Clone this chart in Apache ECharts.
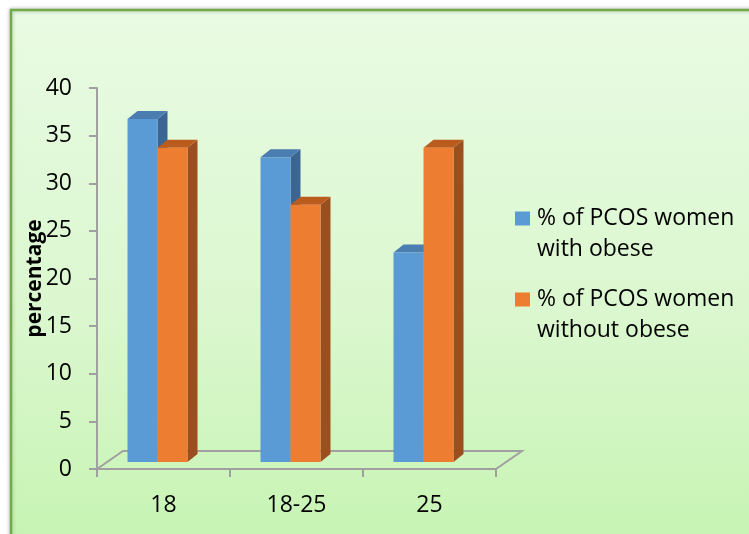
<!DOCTYPE html>
<html>
<head>
<meta charset="utf-8">
<script src="https://cdn.jsdelivr.net/npm/echarts@6/dist/echarts.min.js"></script>
<style>
  html, body { margin: 0; padding: 0; background: #ffffff; }
  #chart { width: 749px; height: 534px; }
</style>
</head>
<body>
<div id="chart"></div>
<script>
// Age groups on the category axis
const categories = ['18', '18-25', '25'];
// Percentage of PCOS women per age group
const withObese = [36, 32, 22];
const withoutObese = [33, 27, 33];
// Series / legend labels
const seriesNames = ['% of PCOS women with obese', '% of PCOS women without obese'];
const legendLines = [['% of PCOS women', 'with obese'], ['% of PCOS women', 'without obese']];

const FONT = 'Open Sans';
const FONT_SIZE = 23;

// Shading for the pseudo-3D columns: front, top, side
const palette = [
  { front: '#5b9bd5', top: '#4a7db0', side: '#3b6694' },
  { front: '#ed7d31', top: '#bb5c1f', side: '#9b4f1e' }
];

// Column geometry (pixels): offset of front-left edge from band centre, width, depth
const BAR_OFFSET = [-36, -6];
const BAR_W = 30;
const DEPTH_X = 10, DEPTH_Y = -8;
const FLOOR_LIFT = 7;          // columns stand a little behind the front edge
const FLOOR_DX = 26, FLOOR_DY = -18;

function barRenderer(seriesIdx) {
  return function (params, api) {
    const cat = api.value(0);
    const top = api.coord([cat, api.value(1)]);
    const base = api.coord([cat, 0]);
    const c = palette[seriesIdx];
    const L = top[0] + BAR_OFFSET[seriesIdx];
    const R = L + BAR_W;
    const T = top[1] - FLOOR_LIFT;
    const B = base[1] - FLOOR_LIFT;
    return {
      type: 'group',
      children: [
        {
          type: 'polygon',
          shape: { points: [[R, T], [R + DEPTH_X, T + DEPTH_Y], [R + DEPTH_X, B + DEPTH_Y], [R, B]] },
          style: { fill: c.side }
        },
        {
          type: 'polygon',
          shape: { points: [[L, T], [L + DEPTH_X, T + DEPTH_Y], [R + DEPTH_X, T + DEPTH_Y], [R, T]] },
          style: { fill: c.top }
        },
        {
          type: 'rect',
          shape: { x: L, y: T, width: BAR_W, height: B - T },
          style: { fill: c.front }
        }
      ]
    };
  };
}

// Floor outline behind the category axis
function floorRenderer(params, api) {
  const cs = params.coordSys;
  const x0 = cs.x, x1 = cs.x + cs.width, y0 = cs.y + cs.height;
  return {
    type: 'polyline',
    shape: {
      points: [[x0, y0], [x0 + FLOOR_DX, y0 + FLOOR_DY], [x1 + FLOOR_DX, y0 + FLOOR_DY], [x1, y0]]
    },
    style: { stroke: '#a0a0a0', lineWidth: 2, fill: null }
  };
}

const chart = echarts.init(document.getElementById('chart'), null, { renderer: 'canvas' });

chart.setOption({
  animation: false,
  backgroundColor: '#ffffff',
  graphic: [
    {
      type: 'rect',
      z: -10,
      silent: true,
      shape: { x: 11, y: 10, width: 800, height: 600 },
      style: {
        fill: {
          type: 'linear', x: 0, y: 0, x2: 0, y2: 1,
          colorStops: [
            { offset: 0, color: '#e9fbe3' },
            { offset: 0.5, color: '#dbf7cf' },
            { offset: 1, color: '#c1f3ab' }
          ]
        },
        stroke: '#70ad47',
        lineWidth: 2.5,
        shadowBlur: 4,
        shadowColor: 'rgba(0,0,0,0.25)'
      }
    }
  ],
  grid: { left: 97, right: 253, top: 88, bottom: 65, containLabel: false },
  legend: {
    data: seriesNames,
    orient: 'vertical',
    left: 515,
    top: 172,
    padding: 0,
    itemGap: -12,
    itemWidth: 15,
    itemHeight: 14,
    icon: 'rect',
    // leading blank line keeps the swatch level with the first text line
    formatter: function (name) {
      const lines = legendLines[seriesNames.indexOf(name)];
      return '\n' + lines.join('\n');
    },
    textStyle: {
      fontFamily: FONT,
      fontSize: FONT_SIZE,
      lineHeight: 31,
      color: '#000',
      padding: [0, 0, 0, 2]
    }
  },
  xAxis: {
    type: 'category',
    data: categories,
    boundaryGap: true,
    axisLine: { lineStyle: { color: '#a0a0a0', width: 2 } },
    axisTick: { show: true, length: 8, lineStyle: { color: '#a0a0a0', width: 2 } },
    axisLabel: { fontFamily: FONT, fontSize: FONT_SIZE, lineHeight: 23, color: '#000', margin: 25 },
    splitLine: { show: false }
  },
  yAxis: {
    type: 'value',
    min: 0,
    max: 40,
    interval: 5,
    name: 'percentage',
    nameLocation: 'middle',
    nameGap: 51,
    nameRotate: 90,
    nameMoveOverlap: false,
    nameTextStyle: { fontFamily: FONT, fontSize: 21, fontWeight: 'bold', color: '#000' },
    axisLine: { show: true, lineStyle: { color: '#a0a0a0', width: 2 } },
    axisTick: { show: true, length: 8, lineStyle: { color: '#a0a0a0', width: 2 } },
    axisLabel: { fontFamily: FONT, fontSize: FONT_SIZE, color: '#000', margin: 25 },
    splitLine: { show: false }
  },
  series: [
    {
      type: 'custom',
      name: 'floor',
      silent: true,
      z: 1,
      clip: false,
      renderItem: floorRenderer,
      data: [[0, 0]]
    },
    {
      type: 'custom',
      name: seriesNames[0],
      z: 2,
      clip: false,
      itemStyle: { color: palette[0].front },
      renderItem: barRenderer(0),
      encode: { x: 0, y: 1 },
      data: withObese.map((v, i) => [i, v])
    },
    {
      type: 'custom',
      name: seriesNames[1],
      z: 3,
      clip: false,
      itemStyle: { color: palette[1].front },
      renderItem: barRenderer(1),
      encode: { x: 0, y: 1 },
      data: withoutObese.map((v, i) => [i, v])
    }
  ]
});
</script>
</body>
</html>
